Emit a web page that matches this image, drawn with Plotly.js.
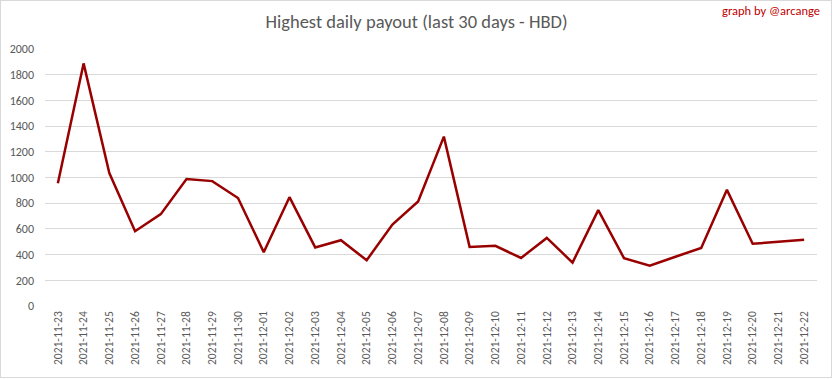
<!DOCTYPE html>
<html><head><meta charset="utf-8">
<script src="https://cdn.plot.ly/plotly-3.0.1.min.js"></script>
<style>
html,body{margin:0;padding:0;background:#fff;}
#wrap{position:absolute;left:0;top:0;width:830px;height:376px;border:1px solid #d9d9d9;}
#chart{position:absolute;left:-1px;top:-1px;width:833px;height:379px;}
</style></head>
<body><div id="wrap"><div id="chart"></div></div>
<script>
const dates = ["2021-11-23","2021-11-24","2021-11-25","2021-11-26","2021-11-27","2021-11-28","2021-11-29","2021-11-30",
"2021-12-01","2021-12-02","2021-12-03","2021-12-04","2021-12-05","2021-12-06","2021-12-07","2021-12-08","2021-12-09",
"2021-12-10","2021-12-11","2021-12-12","2021-12-13","2021-12-14","2021-12-15","2021-12-16","2021-12-17","2021-12-18",
"2021-12-19","2021-12-20","2021-12-21","2021-12-22"];
const payout = [955,1888,1035,582,715,988,972,840,419,847,456,512,356,634,814,1318,460,468,374,530,338,746,372,313,383,452,904,484,500,515];
const yTicks = [0,200,400,600,800,1000,1200,1400,1600,1800,2000];

const fontFam = "Carlito, Calibri, Lato, sans-serif";
Plotly.newPlot('chart', [{
  x: dates, y: payout, type: 'scatter', mode: 'lines',
  line: {color: '#990000', width: 2.5}
}], {
  width: 833, height: 379,
  margin: {l: 45, r: 16, t: 49, b: 73},
  paper_bgcolor: 'rgba(0,0,0,0)', plot_bgcolor: '#fff',
  showlegend: false,
  title: {text: 'Highest daily payout (last 30 days - HBD)', x: 0.5, xanchor: 'center', y: 0.942, yanchor: 'middle',
          font: {family: fontFam, size: 18.5, color: '#595959'}},
  xaxis: {type: 'category', range: [-0.5, dates.length - 0.5], tickangle: -90, showgrid: false, zeroline: false, showline: false,
          tickfont: {family: fontFam, size: 11.5, color: '#595959'}, ticks: '', ticklabelstandoff: 2},
  yaxis: {range: [0, 2000], tickvals: yTicks, showgrid: true, gridcolor: '#d9d9d9', gridwidth: 1,
          zeroline: false, showline: false, ticks: '', ticklabelstandoff: 10,
          tickfont: {family: fontFam, size: 12, color: '#595959'}},
  annotations: [{text: 'graph by @arcange', xref: 'paper', yref: 'paper', x: 1.006, xanchor: 'right', y: 1.15, yanchor: 'middle',
                 showarrow: false, font: {family: fontFam, size: 12.5, color: '#c00000'}}]
}, {displayModeBar: false, staticPlot: true});
</script></body></html>
